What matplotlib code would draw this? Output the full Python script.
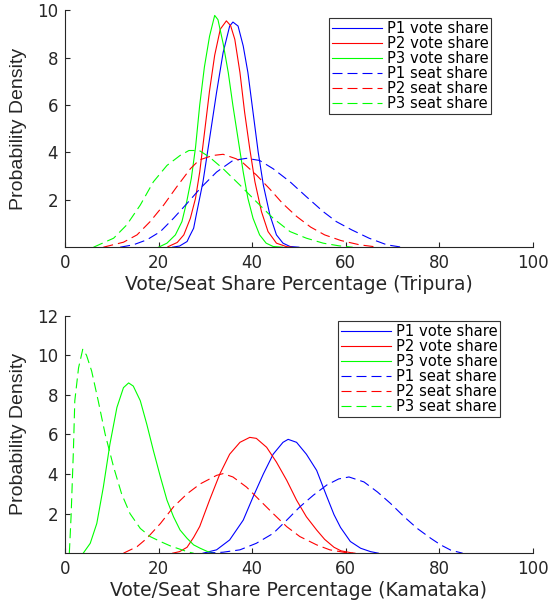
import matplotlib
matplotlib.use("Agg")
import matplotlib.pyplot as plt

# ---- data (x = share %, y = density) ---------------------------------------
# Tripura
tri_p1_vote_x = [23, 24.5, 26.1, 26.6, 27.5, 28.1, 29.5, 30.9, 32.4, 33.8, 35.2, 35.9, 37, 38.1,
                 39.1, 40.2, 41.3, 42.4, 43.8, 45.2, 46.6, 48.1, 50]
tri_p1_vote_y = [0, 0.05, 0.24, 0.45, 0.8, 1.4, 2.76, 4.57, 6.53, 8.21, 9.33, 9.5, 9.33, 8.49,
                 7.37, 5.69, 4.01, 2.62, 1.36, 0.52, 0.17, 0.03, 0]
tri_p2_vote_x = [22, 24, 25.4, 26.8, 27.9, 28.8, 29.8, 30.9, 32, 33.2, 34.5, 35.4, 36.3, 37.4,
                 38.4, 39.5, 40.6, 42, 43.4, 45.2, 47.4, 48.5]
tri_p2_vote_y = [0.02, 0.2, 0.52, 1.22, 2.06, 3.17, 4.8, 6.6, 8.1, 9.2, 9.55, 9.35, 8.77, 7.37,
                 5.69, 4.15, 2.76, 1.5, 0.66, 0.17, 0.02, 0]
tri_p3_vote_x = [20, 21.8, 23.6, 25, 26, 27, 27.9, 28.8, 29.8, 30.9, 32, 32.7, 33.8, 34.9, 35.9,
                 37, 38.1, 39.1, 40.2, 41.6, 43, 44.5, 46.5]
tri_p3_vote_y = [0, 0.17, 0.52, 1.08, 1.9, 2.9, 4.2, 6.0, 7.6, 8.9, 9.78, 9.6, 8.6, 7.37, 5.97,
                 4.57, 3.17, 2.06, 1.22, 0.52, 0.17, 0.03, 0]
tri_p1_seat_x = [11.8, 14.6, 17.5, 20.4, 23.2, 26.1, 29, 32.4, 35.9, 38.8, 41.6, 44.5, 48.1,
                 51.6, 55.2, 58, 61.3, 65, 68.8, 72]
tri_p1_seat_y = [0, 0.1, 0.31, 0.66, 1.22, 1.85, 2.5, 3.17, 3.66, 3.75, 3.66, 3.31, 2.76,
                 2.13, 1.5, 1.08, 0.73, 0.38, 0.1, 0]
tri_p2_seat_x = [8.2, 12.5, 15.4, 18.2, 21.1, 23.9, 26.8, 28.7, 31.6, 33.8, 36.6, 38.1, 40.9,
                 43.8, 46.5, 49.5, 52.5, 55.5, 59, 63, 67]
tri_p2_seat_y = [0, 0.21, 0.52, 1.08, 1.78, 2.55, 3.31, 3.68, 3.87, 3.92, 3.73, 3.55, 3.05,
                 2.45, 1.85, 1.3, 0.85, 0.52, 0.28, 0.1, 0]
tri_p3_seat_x = [6.1, 10.4, 13.2, 16.1, 18.9, 21.8, 24.6, 26.5, 28.7, 30.9, 33.8, 37.4, 40.9,
                 44.5, 48.1, 51.6, 55.2, 58.5, 61.5]
tri_p3_seat_y = [0, 0.38, 0.94, 1.78, 2.76, 3.45, 3.87, 4.08, 4.08, 3.8, 3.31, 2.62, 1.92,
                 1.22, 0.66, 0.38, 0.17, 0.06, 0]

# Karnataka
kar_p1_vote_x = [29.5, 32.4, 35.2, 38.1, 40.2, 42.4, 44.5, 46.6, 47.7, 49.5, 51.6, 53.8, 55.9,
                 57.5, 58.9, 61, 63.2, 65.3, 67]
kar_p1_vote_y = [0, 0.17, 0.67, 1.67, 2.84, 4.0, 5.0, 5.6, 5.75, 5.6, 5.0, 4.18, 2.9,
                 1.95, 1.3, 0.59, 0.25, 0.08, 0]
kar_p2_vote_x = [23, 24.5, 26.1, 27.5, 28.8, 30.9, 33.1, 35.2, 37.4, 39.5, 40.9, 43.1, 45.2,
                 47.4, 49.5, 51.6, 53.8, 55.5, 57.5, 59, 61, 62]
kar_p2_vote_y = [0, 0.08, 0.3, 0.8, 1.35, 2.68, 4.0, 5.0, 5.6, 5.85, 5.8, 5.35, 4.6,
                 3.68, 2.68, 1.84, 1.17, 0.7, 0.3, 0.12, 0.03, 0]
kar_p3_vote_x = [3.9, 5.4, 6.8, 8.2, 9.6, 11.1, 12.5, 13.6, 14.6, 16.1, 17.5, 18.9, 20.4, 21.8,
                 23.2, 24.6, 26.1, 27.5, 28.9, 30.5, 32]
kar_p3_vote_y = [0, 0.5, 1.5, 3.34, 5.5, 7.36, 8.36, 8.6, 8.44, 7.7, 6.5, 5.18, 3.85, 2.68,
                 1.84, 1.17, 0.75, 0.42, 0.25, 0.08, 0]
kar_p1_seat_x = [30, 33.8, 37.4, 40.9, 44.5, 47.4, 50.2, 53.1, 56, 58.5, 60.7, 63.9, 66.8,
                 69.6, 72.5, 75.3, 78.2, 80.3, 82.5, 85]
kar_p1_seat_y = [0, 0.05, 0.17, 0.5, 1.0, 1.67, 2.34, 2.93, 3.45, 3.75, 3.85, 3.6, 3.09,
                 2.51, 1.84, 1.25, 0.75, 0.42, 0.15, 0]
kar_p2_seat_x = [12.5, 15.4, 17.5, 20.4, 23.2, 26.1, 28.9, 32.4, 33.8, 35.9, 38.8, 41.6, 44.5,
                 47.4, 50.2, 53.8, 56.6, 60, 61.5]
kar_p2_seat_y = [0, 0.33, 0.75, 1.5, 2.34, 3.0, 3.5, 3.93, 4.02, 3.85, 3.34, 2.68, 2.0,
                 1.34, 0.84, 0.42, 0.17, 0.03, 0]
kar_p3_seat_x = [0.93, 1.3, 1.8, 2.1, 2.9, 3.8, 4.6, 5.7, 7.1, 8.6, 10.4, 12.1, 13.9, 16.1,
                 18.2, 20.4, 22.5, 24.6, 26.5, 27.5]
kar_p3_seat_y = [0, 1.84, 5.18, 7.7, 9.36, 10.3, 10.0, 9.2, 7.7, 6.0, 4.35, 3.0, 2.0, 1.25,
                 0.84, 0.59, 0.37, 0.2, 0.05, 0]

labels = ["P1 vote share", "P2 vote share", "P3 vote share",
          "P1 seat share", "P2 seat share", "P3 seat share"]
colors = ["#0000ff", "#ff0000", "#00ff00"]

# ---- MATLAB-ish look ---------------------------------------------------------
plt.rcParams["font.family"] = "DejaVu Sans"
AXC = "#262626"
DASH = (0, (9, 4.5))

fig = plt.figure(figsize=(5.53, 6.0), dpi=100)
fig.patch.set_facecolor("white")
ax1 = fig.add_axes([0.1175, 0.588, 0.846, 0.395])
ax2 = fig.add_axes([0.1175, 0.078, 0.846, 0.396])

panels = [
    (ax1, [(tri_p1_vote_x, tri_p1_vote_y), (tri_p2_vote_x, tri_p2_vote_y), (tri_p3_vote_x, tri_p3_vote_y)],
     [(tri_p1_seat_x, tri_p1_seat_y), (tri_p2_seat_x, tri_p2_seat_y), (tri_p3_seat_x, tri_p3_seat_y)],
     10, [2, 4, 6, 8, 10], "Vote/Seat Share Percentage (Tripura)", (0.565, 0.968)),
    (ax2, [(kar_p1_vote_x, kar_p1_vote_y), (kar_p2_vote_x, kar_p2_vote_y), (kar_p3_vote_x, kar_p3_vote_y)],
     [(kar_p1_seat_x, kar_p1_seat_y), (kar_p2_seat_x, kar_p2_seat_y), (kar_p3_seat_x, kar_p3_seat_y)],
     12, [2, 4, 6, 8, 10, 12], "Vote/Seat Share Percentage (Kamataka)", (0.584, 0.978)),
]

for ax, votes, seats, ymax, yticks, xlabel, legpos in panels:
    for (x, y), c in zip(votes, colors):
        ax.plot(x, y, color=c, lw=0.8)
    for (x, y), c in zip(seats, colors):
        ax.plot(x, y, color=c, lw=0.8, linestyle=DASH)

    ax.set_xlim(0, 100)
    ax.set_ylim(0, ymax)
    ax.set_xticks([0, 20, 40, 60, 80, 100])
    ax.set_yticks(yticks)
    for side in ("top", "right"):
        ax.spines[side].set_visible(False)
    for side in ("left", "bottom"):
        ax.spines[side].set_color(AXC)
        ax.spines[side].set_linewidth(0.8)
    ax.tick_params(direction="in", length=3.5, width=0.8, color=AXC,
                   labelcolor=AXC, labelsize=12, pad=5)

    ax.set_xlabel(xlabel, fontsize=13.5, color=AXC, labelpad=2)
    ax.set_ylabel("Probability Density", fontsize=14, color=AXC, labelpad=7,
                  family=["Liberation Sans Narrow", "Liberation Sans"])

    leg = ax.legend(labels, loc="upper left", bbox_to_anchor=legpos, borderaxespad=0,
                    fontsize=10.6, frameon=True, fancybox=False, framealpha=1,
                    edgecolor="#333333", handlelength=3.4, handletextpad=0.3,
                    labelspacing=0.0, borderpad=0.2)
    leg.get_frame().set_linewidth(0.8)

fig.savefig("out.png", dpi=100, facecolor="white")
